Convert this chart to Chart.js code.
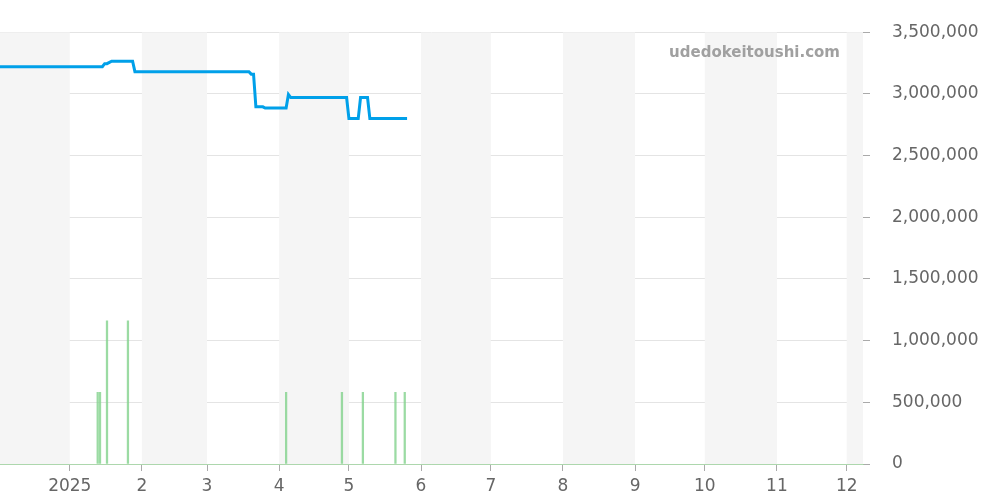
<!DOCTYPE html>
<html>
<head>
<meta charset="utf-8">
<script src="https://cdn.jsdelivr.net/npm/chart.js@4"></script>
<style>
  html, body { margin: 0; padding: 0; background: #fff; }
  #wrap { width: 1000px; height: 500px; position: relative; }
</style>
</head>
<body>
<div id="wrap"><canvas id="priceChart"></canvas></div>
<script>
// price line (yen)
const priceDates = ['2024-12-02', '2025-01-15', '2025-01-16', '2025-01-17', '2025-01-19', '2025-01-28', '2025-01-29',
  '2025-03-19', '2025-03-20', '2025-03-21', '2025-03-22', '2025-03-25', '2025-03-26', '2025-04-04', '2025-04-05',
  '2025-04-06', '2025-04-30', '2025-05-01', '2025-05-05', '2025-05-06', '2025-05-09', '2025-05-10', '2025-05-26'];
const priceValues = [3220000, 3220000, 3245000, 3245000, 3265000, 3265000, 3180000,
  3180000, 3160000, 3160000, 2895000, 2895000, 2885000, 2885000, 2995000,
  2970000, 2970000, 2800000, 2800000, 2970000, 2970000, 2800000, 2800000];

// volume bars
const volumeDates = ['2025-01-13', '2025-01-14', '2025-01-17', '2025-01-26', '2025-04-04',
  '2025-04-28', '2025-05-07', '2025-05-21', '2025-05-25'];
const volumeValues = [580000, 580000, 1160000, 1160000, 580000, 580000, 580000, 580000, 580000];

// axis
const axisStart = '2024-12-02';
const axisEnd = '2025-12-08';
const tickDates = ['2025-01-01', '2025-02-01', '2025-03-01', '2025-04-01', '2025-05-01', '2025-06-01',
  '2025-07-01', '2025-08-01', '2025-09-01', '2025-10-01', '2025-11-01', '2025-12-01'];
const bandStarts = ['2024-12-01', '2025-02-01', '2025-04-01', '2025-06-01', '2025-08-01', '2025-10-01', '2025-12-01'];
const bandEnds = ['2025-01-01', '2025-03-01', '2025-05-01', '2025-07-01', '2025-09-01', '2025-11-01', '2026-01-01'];

const t = s => Date.parse(s + 'T00:00:00Z');

const bandsPlugin = {
  id: 'bands',
  beforeDatasetsDraw(chart) {
    const { ctx, chartArea, scales } = chart;
    ctx.save();
    ctx.beginPath();
    ctx.rect(chartArea.left, chartArea.top, chartArea.right - chartArea.left, chartArea.bottom - chartArea.top);
    ctx.clip();
    ctx.fillStyle = '#f5f5f5';
    bandStarts.forEach((s, i) => {
      const x1 = scales.x.getPixelForValue(t(s));
      const x2 = scales.x.getPixelForValue(t(bandEnds[i]));
      ctx.fillRect(x1, chartArea.top, x2 - x1, chartArea.bottom - chartArea.top);
    });
    ctx.restore();
  }
};

const markPlugin = {
  id: 'mark',
  afterDraw(chart) {
    const ctx = chart.ctx;
    ctx.save();
    ctx.font = 'bold 15px "DejaVu Sans"';
    ctx.fillStyle = '#a0a0a0';
    ctx.textAlign = 'right';
    ctx.textBaseline = 'middle';
    ctx.fillText('udedokeitoushi.com', chart.chartArea.right - 23, 53);
    ctx.restore();
  }
};

const ctx = document.getElementById('priceChart').getContext('2d');
new Chart(ctx, {
  data: {
    datasets: [{
      type: 'line',
      data: priceDates.map((d, i) => ({ x: t(d), y: priceValues[i] })),
      borderColor: '#00a0e9',
      borderWidth: 3,
      pointRadius: 0,
      tension: 0,
      order: 1
    }, {
      type: 'bar',
      data: volumeDates.map((d, i) => ({ x: t(d), y: volumeValues[i] })),
      backgroundColor: 'rgba(130, 210, 140, 0.8)',
      barThickness: 1.6,
      order: 2
    }]
  },
  options: {
    responsive: true,
    maintainAspectRatio: false,
    animation: false,
    layout: { padding: { top: 21, right: 20, bottom: 0, left: 0 } },
    plugins: { legend: { display: false }, tooltip: { enabled: false } },
    scales: {
      x: {
        type: 'linear',
        offset: false,
        min: t(axisStart),
        max: t(axisEnd),
        afterBuildTicks(scale) {
          scale.ticks = tickDates.map(d => ({ value: t(d) }));
        },
        afterFit(scale) { scale.height = 36; },
        ticks: {
          autoSkip: false,
          maxRotation: 0,
          padding: 5,
          color: '#666',
          font: { family: 'DejaVu Sans', size: 17 },
          callback(value) {
            const d = new Date(value);
            return d.getUTCMonth() === 0 ? String(d.getUTCFullYear()) : String(d.getUTCMonth() + 1);
          }
        },
        grid: { offset: false, drawOnChartArea: false, drawTicks: true, tickLength: 7, tickColor: '#aaa' },
        border: { color: 'rgba(150, 210, 150, 0.7)', dash: [2, 1] }
      },
      y: {
        position: 'right',
        min: 0,
        max: 3500000,
        afterFit(scale) { scale.width = 117; },
        ticks: {
          stepSize: 500000,
          padding: 22,
          color: '#666',
          font: { family: 'DejaVu Sans', size: 17 },
          callback: v => v.toLocaleString('en-US')
        },
        grid: { color: '#e4e4e4', tickLength: 7, tickColor: '#aaa' },
        border: { display: false }
      }
    }
  },
  plugins: [bandsPlugin, markPlugin]
});
</script>
</body>
</html>
